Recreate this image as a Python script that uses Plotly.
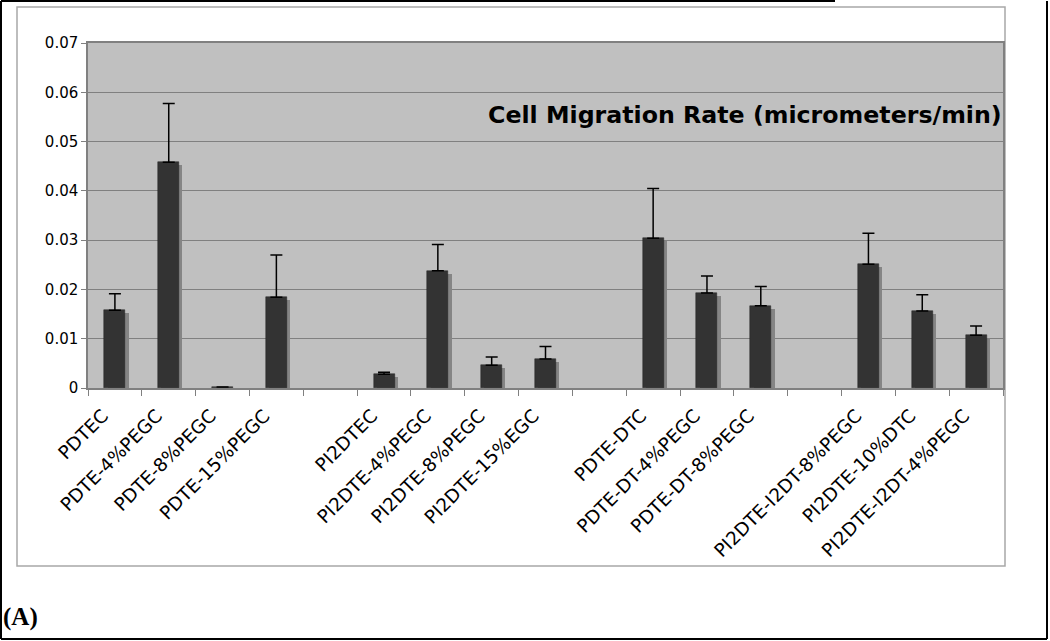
import plotly.graph_objects as go

categories = ["PDTEC", "PDTE-4%PEGC", "PDTE-8%PEGC", "PDTE-15%PEGC", " ",
              "PI2DTEC", "PI2DTE-4%PEGC", "PI2DTE-8%PEGC", "PI2DTE-15%EGC", "  ",
              "PDTE-DTC", "PDTE-DT-4%PEGC", "PDTE-DT-8%PEGC", "   ",
              "PI2DTE-I2DT-8%PEGC", "PI2DTE-10%DTC", "PI2DTE-I2DT-4%PEGC"]
rates = [0.0158, 0.0458, 0.0002, 0.0184, None,
         0.0028, 0.0238, 0.0046, 0.0059, None,
         0.0304, 0.0193, 0.0167, None,
         0.0251, 0.0156, 0.0107]
errors = [0.0033, 0.0119, 0.0, 0.0086, 0,
          0.0004, 0.0053, 0.0017, 0.0025, 0,
          0.0101, 0.0034, 0.0039, 0,
          0.0063, 0.0033, 0.0019]

W, H = 1050, 641
L, R, T, B = 88, 1003, 43, 388

def px(x):
    return (x - L) / (R - L)

def py(y):
    return (B - y) / (B - T)

bar_w = 0.39
shadow_dx = 0.06
shadow_dy = 0.0006

shadow_y = [None if v is None else max(v - shadow_dy, 0) for v in rates]

fig = go.Figure()
fig.add_trace(go.Bar(
    x=categories, y=shadow_y, width=bar_w, offset=-bar_w / 2 + shadow_dx,
    marker=dict(color="#858585", line=dict(width=0)), hoverinfo="skip",
    showlegend=False))
fig.add_trace(go.Bar(
    x=categories, y=rates, width=bar_w, offset=-bar_w / 2,
    marker=dict(color="#333333", line=dict(color="#222222", width=0.5)),
    error_y=dict(type="data", array=errors, arrayminus=[0] * len(errors),
                 symmetric=False, color="black", thickness=1.5, width=6),
    showlegend=False))

shapes = []
# chart area border
shapes.append(dict(type="rect", xref="paper", yref="paper",
                   x0=px(17), x1=px(1005), y0=py(566), y1=py(7),
                   line=dict(color="#a8a8a8", width=1.5), layer="below"))
# outer black frame
for (x0, y0, x1, y1) in [(1, 1, 1, 639), (1, 639, 1047, 639),
                         (1047, 1, 1047, 639), (1, 1, 835, 1)]:
    shapes.append(dict(type="line", xref="paper", yref="paper",
                       x0=px(x0), x1=px(x1), y0=py(y0), y1=py(y1),
                       line=dict(color="black", width=2)))

annotations = [
    dict(text="<b>Cell Migration Rate (micrometers/min)</b>", xref="paper", yref="paper",
         x=px(1004), y=py(115), xanchor="right", yanchor="middle", showarrow=False,
         font=dict(family="DejaVu Sans", size=23.7, color="black")),
    dict(text="<b>(A)</b>", xref="paper", yref="paper",
         x=px(1), y=py(617), xanchor="left", yanchor="middle", showarrow=False,
         font=dict(family="Liberation Serif", size=25, color="black")),
]

fig.update_layout(
    width=W, height=H,
    margin=dict(l=L, r=W - R, t=T, b=H - B, pad=0),
    paper_bgcolor="white", plot_bgcolor="#c0c0c0",
    barmode="overlay", bargap=0,
    font=dict(family="DejaVu Sans", color="black"),
    shapes=shapes, annotations=annotations,
)
fig.update_xaxes(
    type="category", categoryorder="array", categoryarray=categories,
    tickson="boundaries", ticks="outside", ticklen=6, tickcolor="#808080",
    tickangle=-45, tickfont=dict(size=18.5, family="DejaVu Sans", color="black"),
    showline=True, linecolor="#808080", linewidth=1.5, mirror=True,
    showgrid=False, ticklabelstandoff=8, ticklabelshift=-12,
)
fig.update_yaxes(
    range=[0, 0.07], dtick=0.01, tick0=0,
    ticks="outside", ticklen=5, tickcolor="#808080",
    tickfont=dict(size=15, family="DejaVu Sans", color="black"),
    showline=True, linecolor="#808080", linewidth=1.5, mirror=True,
    showgrid=True, gridcolor="#808080", gridwidth=1, zeroline=False,
)

fig.write_html("out.html", config={"displayModeBar": False},
               post_script="document.body.style.margin='0';document.body.style.overflow='hidden';")
